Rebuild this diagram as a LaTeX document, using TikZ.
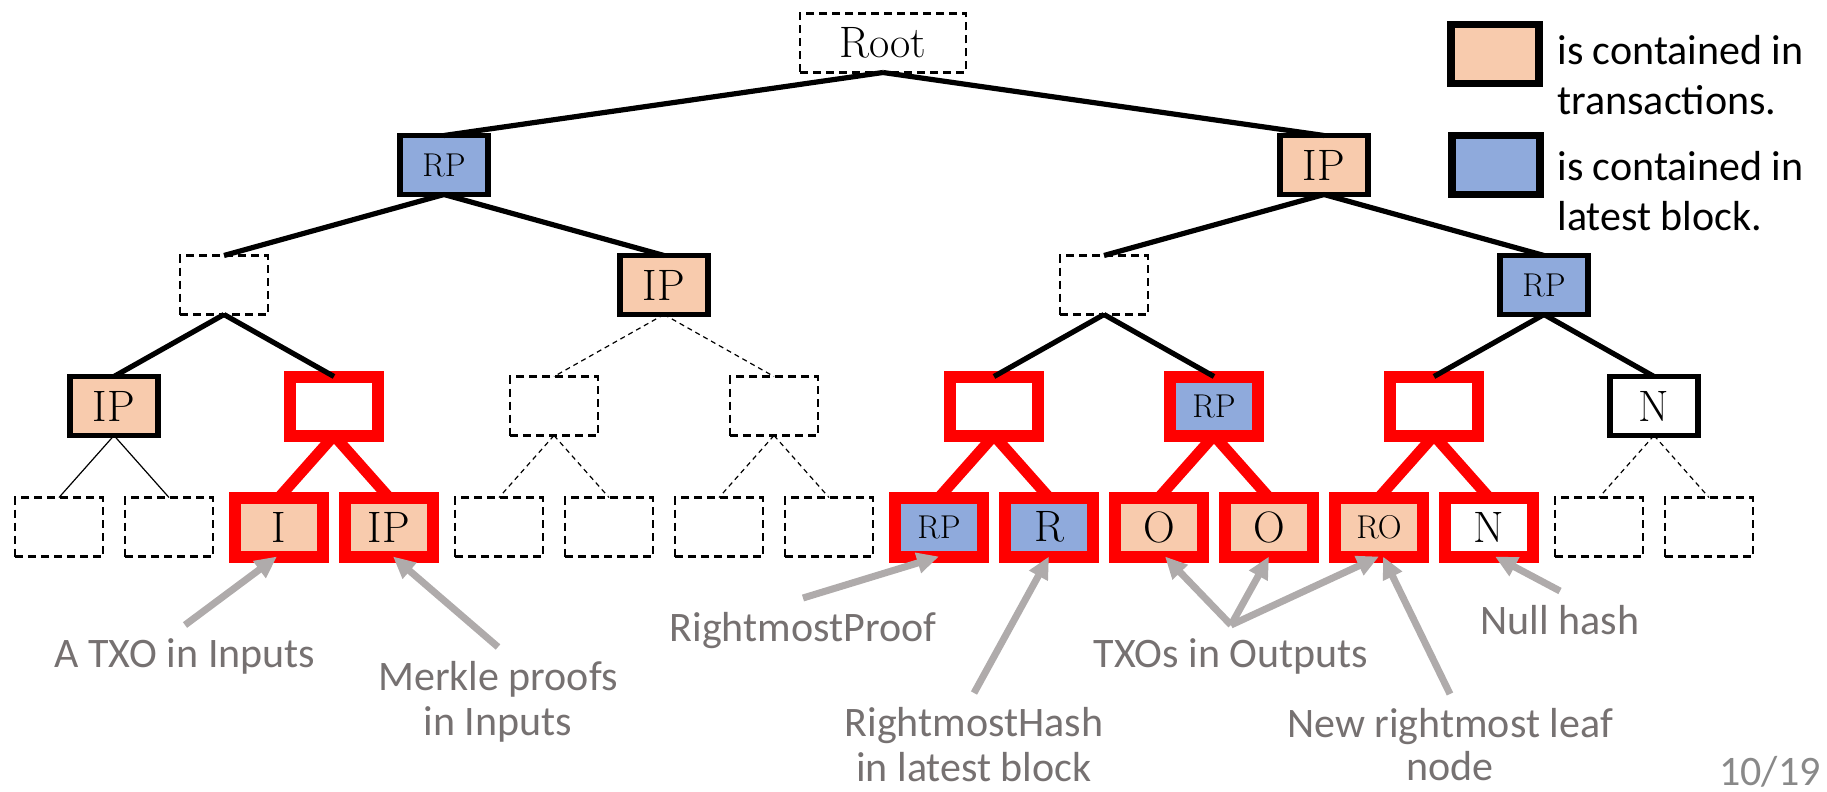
\documentclass[tikz,border=0pt]{standalone}
\usepackage{fontspec}
\newfontfamily\calfont{Carlito}
\usetikzlibrary{arrows.meta}
\definecolor{peach}{HTML}{F8CBAD}
\definecolor{bluefill}{HTML}{8FAADC}
\definecolor{graytext}{HTML}{767171}
\definecolor{pagegray}{HTML}{898989}
\definecolor{grayarrow}{HTML}{AFABAB}
\begin{document}
\begin{tikzpicture}[x=0.5pt,y=-0.5pt,
  box/.style={minimum width=44pt,minimum height=29.5pt,inner sep=0pt,outer sep=0pt,
    font=\fontsize{22}{24}\selectfont},
  dbox/.style={box,draw,line width=1.2pt,dash pattern=on 4pt off 2.5pt,fill=white},
  bbox/.style={box,draw,line width=2.8pt},
  rbox/.style={box,draw=red,line width=6pt,fill=white},
  smalltxt/.style={font=\fontsize{16.5}{20}\selectfont},
  blk/.style={line width=2.6pt},
  thinl/.style={line width=0.6pt},
  thind/.style={line width=0.6pt,dash pattern=on 2.5pt off 2pt},
  redl/.style={line width=5.5pt,red},
  lbl/.style={font=\calfont\fontsize{21}{22.5}\selectfont,text=graytext,align=center,
    inner sep=0pt,outer sep=7pt},
  legtxt/.style={font=\calfont\fontsize{21}{25}\selectfont,align=left,inner sep=0pt},
  arr/.style={grayarrow,line width=3.5pt,-{Triangle[length=11pt,width=10pt]}}
]
\useasboundingbox (0,0) rectangle (1827,792);

% tree nodes
\node[dbox,minimum width=83pt] (root) at (883,43) {Root};
\node[bbox,fill=bluefill,smalltxt] (l1a) at (444,165) {RP};
\node[bbox,fill=peach] (l1b) at (1324,165) {IP};

\node[dbox] (l2a) at (224,285) {};
\node[bbox,fill=peach] (l2b) at (664,285) {IP};
\node[dbox] (l2c) at (1104,285) {};
\node[bbox,fill=bluefill,smalltxt] (l2d) at (1544,285) {RP};

\node[bbox,fill=peach] (l3a) at (114,406) {IP};
\node[rbox] (l3b) at (334,406) {};
\node[dbox] (l3c) at (554,406) {};
\node[dbox] (l3d) at (774,406) {};
\node[rbox] (l3e) at (994,406) {};
\node[rbox,fill=bluefill,smalltxt] (l3f) at (1214,406) {RP};
\node[rbox] (l3g) at (1434,406) {};
\node[bbox,fill=white] (l3h) at (1654,406) {N};

\node[dbox] (l4a) at (59,527) {};
\node[dbox] (l4b) at (169,527) {};
\node[rbox,fill=peach] (l4c) at (279,527) {I};
\node[rbox,fill=peach] (l4d) at (389,527) {IP};
\node[dbox] (l4e) at (499,527) {};
\node[dbox] (l4f) at (609,527) {};
\node[dbox] (l4g) at (719,527) {};
\node[dbox] (l4h) at (829,527) {};
\node[rbox,fill=bluefill,smalltxt] (l4i) at (939,527) {RP};
\node[rbox,fill=bluefill] (l4j) at (1049,527) {R};
\node[rbox,fill=peach] (l4k) at (1159,527) {O};
\node[rbox,fill=peach] (l4l) at (1269,527) {O};
\node[rbox,fill=peach,smalltxt] (l4m) at (1379,527) {RO};
\node[rbox] (l4n) at (1489,527) {N};
\node[dbox] (l4o) at (1599,527) {};
\node[dbox] (l4p) at (1709,527) {};

% edges
\draw[blk] (root.south) -- (l1a.north);
\draw[blk] (root.south) -- (l1b.north);
\draw[blk] (l1a.south) -- (l2a.north);
\draw[blk] (l1a.south) -- (l2b.north);
\draw[blk] (l1b.south) -- (l2c.north);
\draw[blk] (l1b.south) -- (l2d.north);
\draw[blk] (l2a.south) -- (l3a.north);
\draw[blk] (l2a.south) -- (l3b.north);
\draw[thind] (l2b.south) -- (l3c.north);
\draw[thind] (l2b.south) -- (l3d.north);
\draw[blk] (l2c.south) -- (l3e.north);
\draw[blk] (l2c.south) -- (l3f.north);
\draw[blk] (l2d.south) -- (l3g.north);
\draw[blk] (l2d.south) -- (l3h.north);
\draw[thinl] (l3a.south) -- (l4a.north);
\draw[thinl] (l3a.south) -- (l4b.north);
\draw[redl] (l3b.south) -- (l4c.north);
\draw[redl] (l3b.south) -- (l4d.north);
\draw[thind] (l3c.south) -- (l4e.north);
\draw[thind] (l3c.south) -- (l4f.north);
\draw[thind] (l3d.south) -- (l4g.north);
\draw[thind] (l3d.south) -- (l4h.north);
\draw[redl] (l3e.south) -- (l4i.north);
\draw[redl] (l3e.south) -- (l4j.north);
\draw[redl] (l3f.south) -- (l4k.north);
\draw[redl] (l3f.south) -- (l4l.north);
\draw[redl] (l3g.south) -- (l4m.north);
\draw[redl] (l3g.south) -- (l4n.north);
\draw[thind] (l3h.south) -- (l4o.north);
\draw[thind] (l3h.south) -- (l4p.north);

% legend
\node[bbox,line width=3.6pt,fill=peach] (leg1) at (1495,54) {};
\node[bbox,line width=3.6pt,fill=bluefill] (leg2) at (1496,165) {};
\node[legtxt,anchor=north west] (leg1t) at (1557,35) {is contained in\\transactions.};
\node[legtxt,anchor=north west] (leg2t) at (1557,151) {is contained in\\latest block.};

% annotations
\node[lbl,anchor=north] (la) at (185,625) {A TXO in Inputs};
\node[lbl,anchor=north] (lb) at (498,647) {Merkle proofs\\in Inputs};
\node[lbl,anchor=north] (lc) at (803,598) {RightmostProof};
\node[lbl,anchor=north] (ld) at (974,693) {RightmostHash\\in latest block};
\node[lbl,anchor=north] (le) at (1231,625) {TXOs in Outputs};
\node[lbl,anchor=north,font=\calfont\fontsize{21}{21.5}\selectfont] (lf) at (1450,694) {New rightmost leaf\\node};
\node[lbl,anchor=north] (lg) at (1560,591) {Null hash};
\node[font=\calfont\fontsize{21}{24}\selectfont,text=pagegray,anchor=base east,inner sep=0pt] (pg) at (1821,785) {10/19};

\draw[arr] (la.north) -- ([xshift=-1pt]l4c.south);
\draw[arr] (lb.north) -- ([xshift=2pt]l4d.south);
\draw[arr] (lc.north) -- (l4i.south);
\draw[arr] (ld.north) -- (l4j.south);
\draw[arr] (le.north) -- ([xshift=3pt]l4k.south);
\draw[arr] (le.north) -- (l4l.south);
\draw[arr] (le.north) -- (l4m.south);
\draw[arr] (lf.north) -- ([xshift=2pt]l4m.south);
\draw[arr] (lg.north) -- ([xshift=3pt]l4n.south);
\end{tikzpicture}
\end{document}
